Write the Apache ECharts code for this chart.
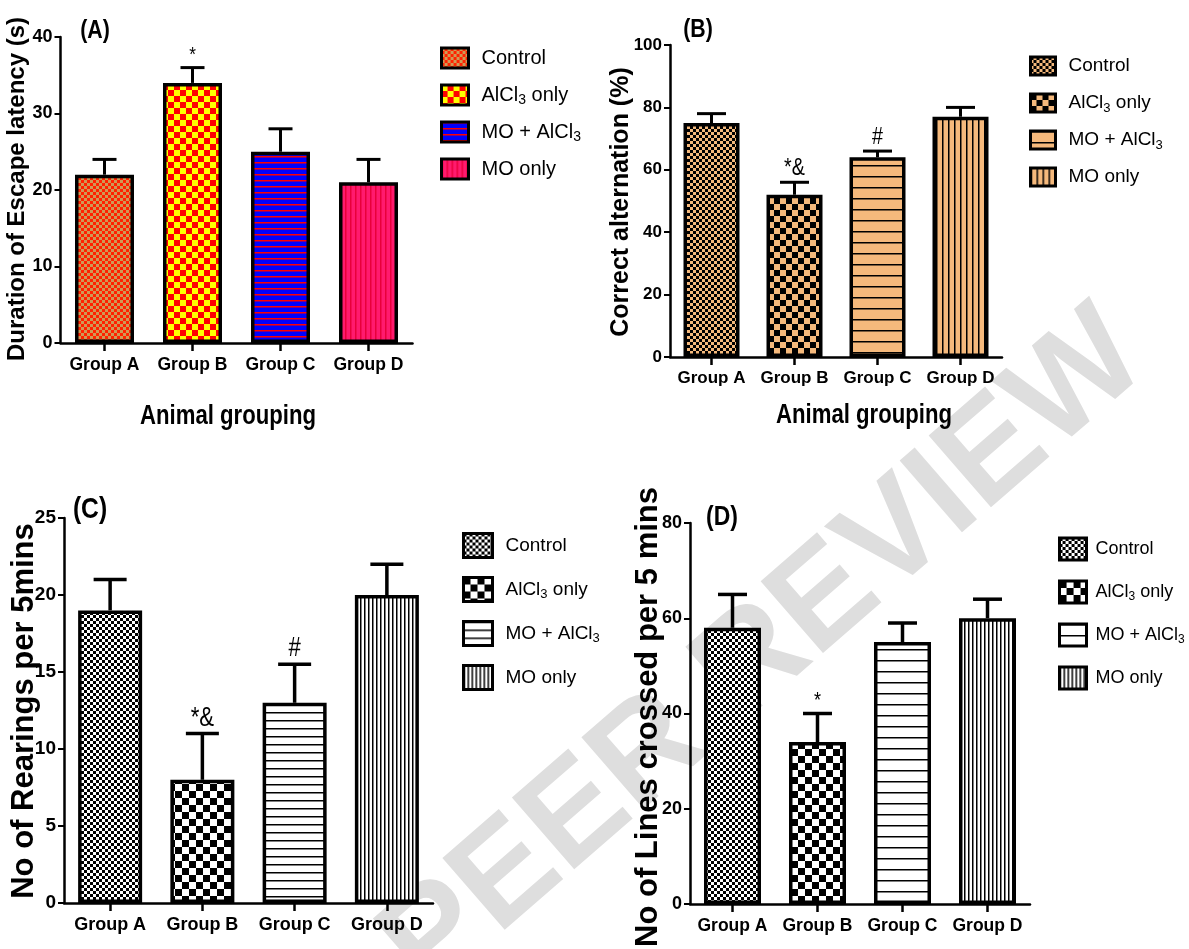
<!DOCTYPE html>
<html>
<head>
<meta charset="utf-8">
<script src="https://cdn.jsdelivr.net/npm/echarts@6/dist/echarts.min.js"></script>
<style>
html,body{margin:0;padding:0;background:#fff;}
#chart{width:1189px;height:949px;}
</style>
</head>
<body>
<div id="chart"></div>
<script>
// ---------------- DATA ----------------
const categories = ['Group A', 'Group B', 'Group C', 'Group D'];
const legendNames = ['Control', 'AlCl3 only', 'MO + AlCl3', 'MO only'];

const escapeMean = [22, 34, 25, 21];
const escapeErr  = [2, 2, 3, 3];
const escapeSig  = ['', '*', '', ''];

const altMean = [75, 52, 64, 77];
const altErr  = [3, 4, 2, 3];
const altSig  = ['', '*&', '#', ''];

const rearMean = [19, 8, 13, 20];
const rearErr  = [2, 3, 2.5, 2];
const rearSig  = ['', '*&', '#', ''];

const linesMean = [58, 34, 55, 60];
const linesErr  = [7, 6, 4, 4];
const linesSig  = ['', '*', '', ''];

const escapeTicks = {min: 0, max: 40, interval: 10};
const altTicks    = {min: 0, max: 100, interval: 20};
const rearTicks   = {min: 0, max: 25, interval: 5};
const linesTicks  = {min: 0, max: 80, interval: 20};

const panelTitles = ['(A)', '(B)', '(C)', '(D)'];
const yTitles = ['Duration of Escape latency (s)', 'Correct alternation (%)',
                 'No of Rearings per 5mins', 'No of Lines crossed per 5 mins'];
const xTitle = 'Animal grouping';
const watermark = 'PEER REVIEW';

// ---------------- STYLE HELPERS ----------------
const FONT = "'Liberation Sans',Arial,sans-serif";
const NARROW_SCALE = 0.82;

function makePattern(type, bg, fg, a, b) {
  const c = document.createElement('canvas');
  let w, h;
  if (type === 'check') { w = h = 2 * a; }
  else if (type === 'hline') { w = 8; h = a; }
  else { w = a; h = 8; }
  c.width = w; c.height = h;
  const ctx = c.getContext('2d');
  ctx.fillStyle = bg; ctx.fillRect(0, 0, w, h);
  ctx.fillStyle = fg;
  if (type === 'check') { ctx.fillRect(0, 0, a, a); ctx.fillRect(a, a, a, a); }
  else if (type === 'hline') { ctx.fillRect(0, 0, w, b); }
  else { ctx.fillRect(0, 0, b, h); }
  return {image: c, repeat: 'repeat'};
}

const TAN = '#f5b97c';
const panelPatterns = [
  [makePattern('check', '#ff2200', '#cf9a55', 3),
   makePattern('check', '#ff0000', '#ffff00', 6),
   makePattern('hline', '#0000ff', '#ff0000', 6.5, 1.5),
   makePattern('vline', '#ff1a6e', '#e8003a', 5, 1.5)],
  [makePattern('check', TAN, '#000', 3),
   makePattern('check', TAN, '#000', 6),
   makePattern('hline', TAN, '#000', 11, 1.5),
   makePattern('vline', TAN, '#000', 6.5, 1.5)],
  [makePattern('check', '#fff', '#000', 3),
   makePattern('check', '#fff', '#000', 7),
   makePattern('hline', '#fff', '#000', 8, 1.5),
   makePattern('vline', '#fff', '#000', 4.5, 1.5)],
  [makePattern('check', '#fff', '#000', 3),
   makePattern('check', '#fff', '#000', 7),
   makePattern('hline', '#fff', '#000', 11, 1.5),
   makePattern('vline', '#fff', '#000', 4.5, 1.5)]
];

const panels = [
  {key: 'A', mean: escapeMean, err: escapeErr, sig: escapeSig, ticks: escapeTicks,
   grid: {left: 60.5, top: 37, width: 352, height: 306}, barWidth: 59, cap: 24, lw: 3,
   tickFont: 18, catFont: 17.5, sigFont: 21, sigGap: 2,
   legend: {left: 435, top: 40, w: 27, h: 20, gap: 11, font: 20, pad: 8}},
  {key: 'B', mean: altMean, err: altErr, sig: altSig, ticks: altTicks,
   grid: {left: 670, top: 45, width: 332, height: 312}, barWidth: 56, cap: 29, lw: 3,
   tickFont: 17, catFont: 17, sigFont: 24, sigGap: 2,
   legend: {left: 1024, top: 48, w: 25, h: 18, gap: 11, font: 19, pad: 8}},
  {key: 'C', mean: rearMean, err: rearErr, sig: rearSig, ticks: rearTicks,
   grid: {left: 64, top: 518, width: 369, height: 385}, barWidth: 64, cap: 33, lw: 3.5,
   tickFont: 19, catFont: 18, sigFont: 27, sigGap: 2,
   legend: {left: 457, top: 527, w: 29, h: 24, gap: 17, font: 19, pad: 8}},
  {key: 'D', mean: linesMean, err: linesErr, sig: linesSig, ticks: linesTicks,
   grid: {left: 690, top: 523, width: 340, height: 381}, barWidth: 57, cap: 29, lw: 3.5,
   tickFont: 18, catFont: 17.5, sigFont: 22, sigGap: 2,
   legend: {left: 1053, top: 531, w: 27, h: 22, gap: 17, font: 18, pad: 4}}
];

const grids = [], xAxes = [], yAxes = [], series = [], legends = [];

panels.forEach((p, pi) => {
  grids.push(Object.assign({containLabel: false}, p.grid));
  xAxes.push({
    type: 'category', gridIndex: pi, data: categories,
    axisLine: {show: true, lineStyle: {color: '#000', width: 2.5}},
    axisTick: {show: true, alignWithLabel: true, length: 8, lineStyle: {color: '#000', width: 2.5}},
    axisLabel: {interval: 0, color: '#000', fontFamily: FONT, fontWeight: 'bold', fontSize: p.catFont, margin: 13},
    splitLine: {show: false}
  });
  yAxes.push({
    type: 'value', gridIndex: pi, min: p.ticks.min, max: p.ticks.max, interval: p.ticks.interval,
    axisLine: {show: true, lineStyle: {color: '#000', width: 2.5}},
    axisTick: {show: true, length: 6, lineStyle: {color: '#000', width: 2}},
    axisLabel: {color: '#000', fontFamily: FONT, fontWeight: 'bold', fontSize: p.tickFont, margin: 8},
    splitLine: {show: false}
  });
  const names = [];
  legendNames.forEach((ln, i) => {
    const nm = p.key + '|' + ln;
    names.push(nm);
    series.push({
      type: 'bar', name: nm, xAxisIndex: pi, yAxisIndex: pi,
      barWidth: p.barWidth, barGap: '-100%',
      data: p.mean.map((v, j) => (j === i ? v : '-')),
      itemStyle: {color: panelPatterns[pi][i], borderColor: '#000', borderWidth: 3.5},
      emphasis: {disabled: true}, z: 2
    });
  });
  const sig = p.sig, cap = p.cap, lw = p.lw, sf = p.sigFont, sg = p.sigGap;
  series.push({
    type: 'custom', name: p.key + '-err', xAxisIndex: pi, yAxisIndex: pi, z: 3,
    data: p.mean.map((v, j) => [j, v, p.err[j]]),
    renderItem: function (params, api) {
      const x = api.value(0), m = api.value(1), e = api.value(2);
      const p0 = api.coord([x, m]);
      const p1 = api.coord([x, m + e]);
      const children = [
        {type: 'line', shape: {x1: p0[0], y1: p0[1], x2: p1[0], y2: p1[1]}, style: {stroke: '#000', lineWidth: lw}},
        {type: 'line', shape: {x1: p1[0] - cap / 2, y1: p1[1], x2: p1[0] + cap / 2, y2: p1[1]}, style: {stroke: '#000', lineWidth: lw}}
      ];
      const s = sig[params.dataIndex];
      if (s) {
        children.push({type: 'text', x: p1[0], y: p1[1] - sg, scaleX: NARROW_SCALE,
          style: {text: s, fill: '#000', fontFamily: FONT, fontSize: sf, align: 'center', verticalAlign: 'bottom'}});
      }
      return {type: 'group', children: children};
    }
  });
  legends.push({
    data: names, orient: 'vertical', left: p.legend.left, top: p.legend.top,
    itemWidth: p.legend.w, itemHeight: p.legend.h, itemGap: p.legend.gap, icon: 'rect',
    selectedMode: false,
    itemStyle: {borderColor: '#000', borderWidth: 3},
    formatter: function (name) {
      return name.split('|')[1].replace('AlCl3', 'AlCl{sub|3}');
    },
    textStyle: {
      color: '#000', fontFamily: FONT, fontSize: p.legend.font, lineHeight: 26,
      padding: [0, 0, 0, p.legend.pad],
      rich: {sub: {fontFamily: FONT, fontSize: Math.round(p.legend.font * 0.68), lineHeight: 14, padding: [10, 0, 0, 0], color: '#000'}}
    }
  });
});

// ---------------- TEXT (titles) ----------------
function label(text, x, y, size, extra) {
  return Object.assign({type: 'text', x: x, y: y, scaleX: NARROW_SCALE,
    style: {text: text, fill: '#000', fontFamily: FONT, fontWeight: 'bold', fontSize: size, align: 'center', verticalAlign: 'middle'}}, extra || {});
}
function vtitle(text, x, y, size) {
  return {type: 'text', x: x, y: y, rotation: Math.PI / 2,
    style: {text: text, fill: '#000', fontFamily: FONT, fontWeight: 'bold', fontSize: size, align: 'center', verticalAlign: 'middle'}};
}
const graphics = [
  {type: 'text', x: 765, y: 653, rotation: 41 * Math.PI / 180, z: -10, silent: true,
   style: {text: watermark, fill: '#dedede', fontFamily: FONT, fontWeight: 'bold', fontSize: 138, align: 'center', verticalAlign: 'middle'}},
  label(panelTitles[0], 95, 31, 26),
  label(panelTitles[1], 698, 30, 26),
  label(panelTitles[2], 90, 510, 30),
  label(panelTitles[3], 722, 517, 28),
  vtitle(yTitles[0], 17, 189, 24),
  vtitle(yTitles[1], 621, 202, 25),
  vtitle(yTitles[2], 24, 711, 31),
  vtitle(yTitles[3], 648, 717, 31),
  label(xTitle, 228, 417, 27),
  label(xTitle, 864, 416, 27)
];

const chart = echarts.init(document.getElementById('chart'), null, {renderer: 'canvas'});
chart.setOption({
  backgroundColor: '#fff',
  animation: false,
  grid: grids, xAxis: xAxes, yAxis: yAxes, series: series, legend: legends,
  graphic: graphics
});
</script>
</body>
</html>
